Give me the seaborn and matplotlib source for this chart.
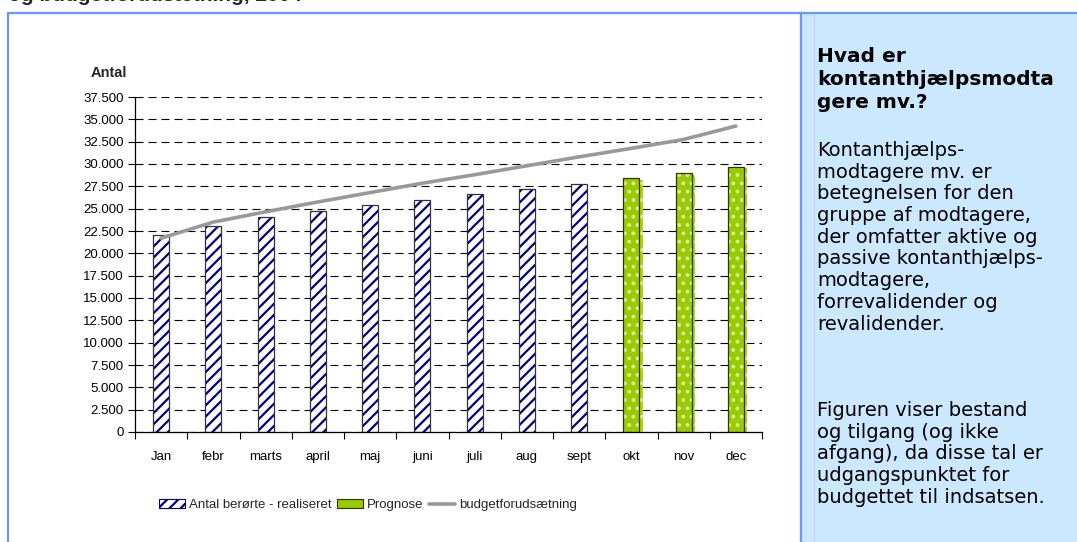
import numpy as np
import pandas as pd
import seaborn as sns
import matplotlib.pyplot as plt
from matplotlib.patches import Patch, Rectangle
from matplotlib.lines import Line2D
from matplotlib.ticker import FuncFormatter, FixedLocator
import matplotlib.patheffects as pe

months = ["Jan", "febr", "marts", "april", "maj", "juni", "juli", "aug", "sept", "okt", "nov", "dec"]
realiseret = [22000, 23100, 24100, 24700, 25400, 26000, 26600, 27200, 27800]
prognose = [28400, 28950, 29700]
budget = [21700, 23500, 24650, 25750, 26800, 27850, 28800, 29800, 30800, 31750, 32750, 34250]

lbl_real = "Antal berørte - realiseret"
lbl_prog = "Prognose"
lbl_budget = "budgetforudsætning"

heading = ["Hvad er", "kontanthjælpsmodta", "gere mv.?"]
body = ["Kontanthjælps-", "modtagere mv. er", "betegnelsen for den", "gruppe af modtagere,",
        "der omfatter aktive og", "passive kontanthjælps-", "modtagere,", "forrevalidender og",
        "revalidender."]
body2 = ["Figuren viser bestand", "og tilgang (og ikke",
         "afgang), da disse tal er", "udgangspunktet for", "budgettet til indsatsen."]

df = pd.DataFrame({
    "month": months,
    "antal": realiseret + prognose,
    "type": [lbl_real] * len(realiseret) + [lbl_prog] * len(prognose),
})

sns.set_theme(style="white")
plt.rcParams["font.family"] = ["Liberation Sans", "DejaVu Sans"]
plt.rcParams["hatch.linewidth"] = 1.6

W, H = 1077, 542
fig = plt.figure(figsize=(W / 100, H / 100), dpi=100)
fig.patch.set_facecolor("white")

# frames: white chart box and light blue text box
fig.patches.append(Rectangle((8 / W, -0.01), (801 - 8) / W, 1.01 - 13 / H, transform=fig.transFigure,
                             facecolor="white", edgecolor="#6699FF", lw=1.6, zorder=-2))
fig.patches.append(Rectangle((801 / W, -0.01), 0.3, 1.01 - 13 / H, transform=fig.transFigure,
                             facecolor="#CCE8FF", edgecolor="#6699FF", lw=1.6, zorder=-2))
fig.lines.append(Line2D([814 / W, 814 / W], [0, 1 - 14 / H], transform=fig.transFigure,
                        color="#B8D6EC", lw=0.7, zorder=-1))

ax = fig.add_axes([135 / W, 1 - 432 / H, (762 - 135) / W, (432 - 97) / H])
ax.set_facecolor("none")

colors = {m: ("white" if t == lbl_real else "#99CC00") for m, t in zip(df["month"], df["type"])}
sns.barplot(data=df, x="month", y="antal", hue="month", palette=colors, width=0.31,
            saturation=1, legend=False, ax=ax)

for p, t in zip(ax.patches, df["type"]):
    if t == lbl_real:
        p.set_hatch("///")
        p.set_edgecolor("#000080")
        edge = "#333333"
    else:
        p.set_hatch("..")
        p.set_edgecolor("#D6EBA0")
        p.set_path_effects([pe.SimplePatchShadow(offset=(2.2, -1.2), shadow_rgbFace="#A8D800", alpha=1.0),
                            pe.Normal()])
        edge = "#333300"
    p.set_linewidth(0)
    ax.add_patch(Rectangle(p.get_xy(), p.get_width(), p.get_height(), fill=False,
                           edgecolor=edge, lw=0.9, zorder=p.get_zorder() + 0.1))

sns.lineplot(x=np.arange(len(months)), y=budget, color="#999999", lw=2.6, ax=ax)

ax.set_xlim(-0.5, len(months) - 0.5)
ax.set_ylim(0, 37500)
ax.set_yticks(np.arange(0, 37501, 2500))
ax.yaxis.set_major_formatter(FuncFormatter(lambda v, _: f"{v:,.0f}".replace(",", ".")))
ax.set_xticks(np.arange(len(months)))
ax.set_xticklabels(months)
ax.xaxis.set_minor_locator(FixedLocator(np.arange(-0.5, len(months), 1.0)))
ax.tick_params(axis="y", which="major", direction="out", length=5, width=0.8, color="black",
               labelsize=9.5, labelcolor="black", pad=3, left=True)
ax.tick_params(axis="x", which="major", length=0, labelsize=9.5, labelcolor="black", pad=14)
ax.tick_params(axis="x", which="minor", direction="out", length=5, width=0.8, color="black", bottom=True)
ax.set_xlabel("")
ax.set_ylabel("")

ax.set_axisbelow(True)
ax.yaxis.grid(True, color="black", lw=0.8, linestyle=(0, (7.2, 4.5)))
ax.xaxis.grid(False)
for s in ["top", "right"]:
    ax.spines[s].set_visible(False)
for s in ["left", "bottom"]:
    ax.spines[s].set_color("black")
    ax.spines[s].set_linewidth(0.9)

fig.text(109 / W, 1 - 73 / H, "Antal", ha="center", va="center", fontsize=10.5, fontweight="bold")

handles = [
    Patch(facecolor="white", edgecolor="#000080", hatch="///", lw=0.8),
    Patch(facecolor="#99CC00", edgecolor="#333300", lw=0.8),
    Line2D([0], [0], color="#999999", lw=2.6),
]
fig.legend(handles, [lbl_real, lbl_prog, lbl_budget], loc="center", bbox_to_anchor=(368 / W, 1 - 505 / H),
           ncol=3, frameon=False, fontsize=9.5, handlelength=2.0, handleheight=0.6,
           columnspacing=0.4, handletextpad=0.3)

# title line cut at the top edge
fig.text(8 / W, 1 - 1 / H, "og budgetforudsætning, 2004", fontsize=15, fontweight="bold", va="baseline")

# side box text
tx = 817 / W
for i, line in enumerate(heading):
    fig.text(tx, 1 - (62 + 23 * i) / H, line, family="DejaVu Sans", fontsize=14.5, fontweight="bold",
             va="baseline", color="black")
for i, line in enumerate(body):
    fig.text(tx, 1 - (156 + 21.7 * i) / H, line, family="DejaVu Sans", fontsize=14,
             va="baseline", color="black")
for i, line in enumerate(body2):
    fig.text(tx, 1 - (416 + 21.7 * i) / H, line, family="DejaVu Sans", fontsize=14,
             va="baseline", color="black")

fig.savefig("out.png", dpi=100)
